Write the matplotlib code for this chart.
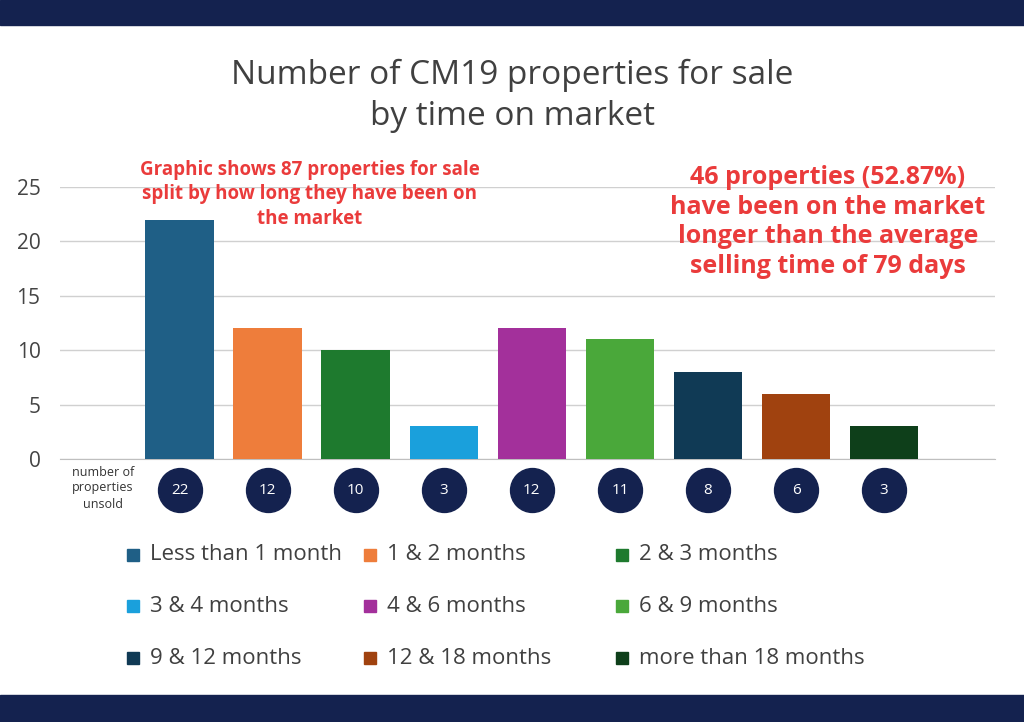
import numpy as np
import matplotlib.pyplot as plt
from matplotlib.patches import Rectangle

plt.rcParams['font.family'] = ['Open Sans', 'DejaVu Sans']

categories = ["Less than 1 month", "1 & 2 months", "2 & 3 months", "3 & 4 months",
              "4 & 6 months", "6 & 9 months", "9 & 12 months", "12 & 18 months",
              "more than 18 months"]
counts = [22, 12, 10, 3, 12, 11, 8, 6, 3]
colors = ["#1f5f86", "#ee7d3b", "#1e7a2e", "#1aa0dc", "#a3309b",
          "#4aa83a", "#103a55", "#a0420f", "#0e3f1a"]
yticks = [0, 5, 10, 15, 20, 25]

navy = "#14224f"
red = "#ea3b3b"

fig = plt.figure(figsize=(10.24, 7.22), dpi=100)
fig.patches.append(Rectangle((0, 1 - 25 / 722), 1, 25 / 722, transform=fig.transFigure, color=navy))
fig.patches.append(Rectangle((0, 0), 1, 27 / 722, transform=fig.transFigure, color=navy))

ax = fig.add_axes([60 / 1024, 1 - 459 / 722, 935 / 1024, 272 / 722])
x = np.arange(len(counts))
ax.bar(x, counts, width=0.78, color=colors, zorder=3)
ax.set_xlim(-1.36, 9.26)
ax.set_ylim(0, 25)
ax.set_yticks(yticks)
ax.tick_params(axis='y', length=0, labelsize=15, labelcolor="#444444", pad=14)
ax.set_xticks([])
ax.grid(axis='y', color="#d0d0d0", linewidth=1, zorder=0)
for s in ["top", "right", "left"]:
    ax.spines[s].set_visible(False)
ax.spines["bottom"].set_color("#bfbfbf")

# value circles under the bars
trans = ax.get_xaxis_transform()
cy = -31 / 272
ax.scatter(x, [cy] * len(x), s=1000, color=navy, transform=trans, clip_on=False, zorder=4)
for xi, c in zip(x, counts):
    ax.text(xi, cy, str(c), transform=trans, ha='center', va='center',
            color='white', fontsize=11, zorder=5)
fig.text(103 / 1024, 1 - 488 / 722, "number of\nproperties\nunsold", ha='center', va='center',
         fontsize=9, color="#333333", linespacing=1.3)

fig.text(0.5, 1 - 96 / 722, "Number of CM19 properties for sale\nby time on market", ha='center',
         va='center', fontsize=24, color="#404040", linespacing=1.35)

fig.text(310 / 1024, 1 - 194 / 722,
         "Graphic shows 87 properties for sale\nsplit by how long they have been on\nthe market",
         ha='center', va='center', fontsize=13.5, color=red, fontweight='bold', linespacing=1.3)
fig.text(828 / 1024, 1 - 222 / 722,
         "46 properties (52.87%)\nhave been on the market\nlonger than the average\nselling time of 79 days",
         ha='center', va='center', fontsize=18, color=red, fontweight='bold', linespacing=1.25)

# legend
col_x = [133, 370, 622]
row_y = [555, 606, 658]
for i, (lab, col) in enumerate(zip(categories, colors)):
    lx = col_x[i % 3]
    ly = row_y[i // 3]
    fig.patches.append(Rectangle(((lx - 6) / 1024, 1 - (ly + 6) / 722), 12 / 1024, 12 / 722,
                                 transform=fig.transFigure, color=col))
    fig.text((lx + 17) / 1024, 1 - ly / 722, lab, ha='left', va='center', fontsize=16, color="#404040")

fig.savefig("out.png", dpi=100, facecolor='white')
